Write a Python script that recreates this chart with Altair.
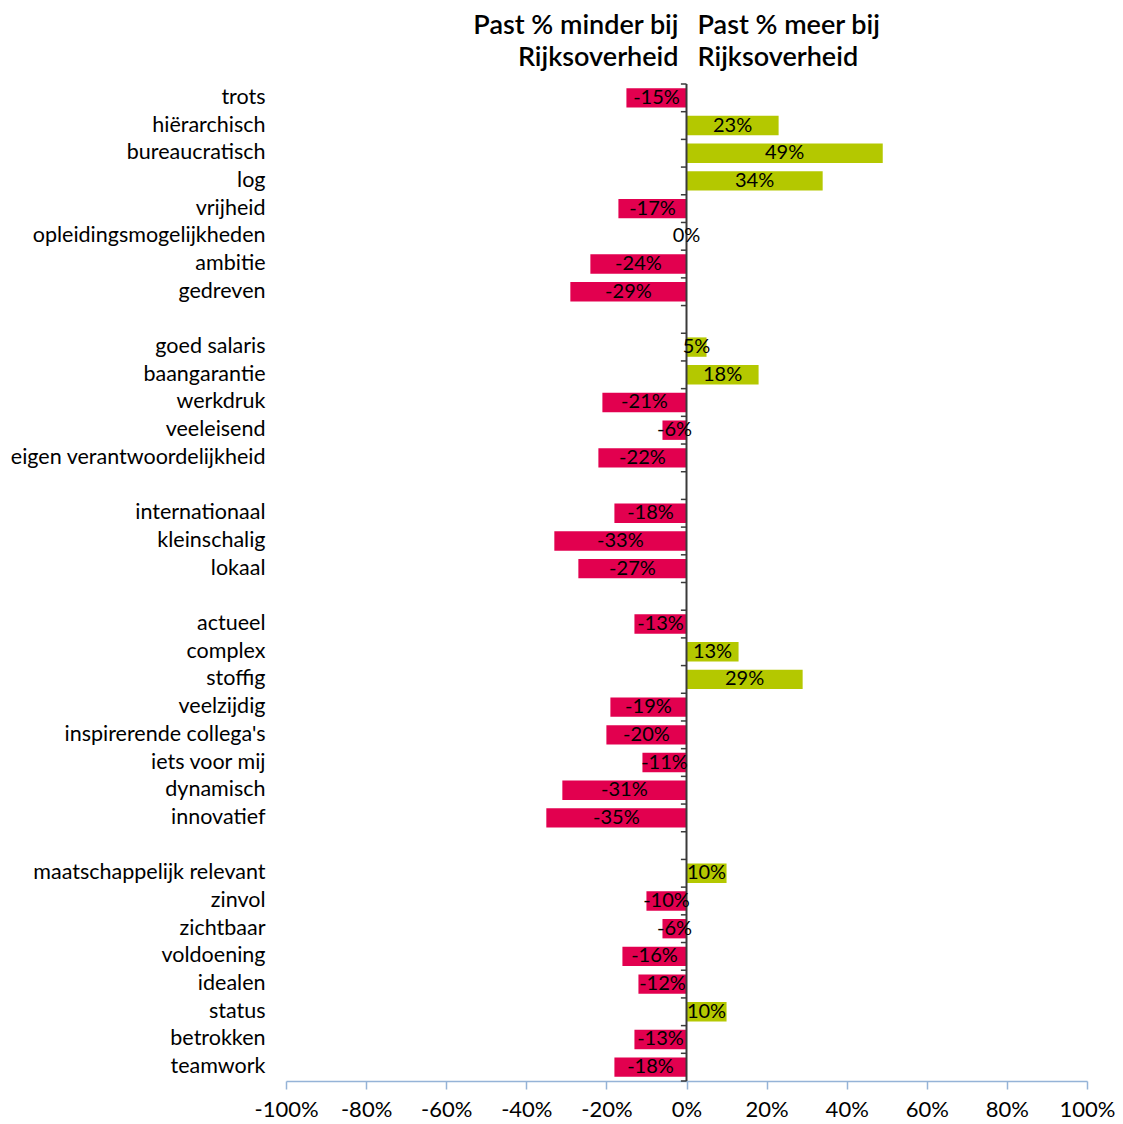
import altair as alt
import pandas as pd

categories = [
    "trots", "hiërarchisch", "bureaucratisch", "log", "vrijheid",
    "opleidingsmogelijkheden", "ambitie", "gedreven",
    "goed salaris", "baangarantie", "werkdruk", "veeleisend",
    "eigen verantwoordelijkheid",
    "internationaal", "kleinschalig", "lokaal",
    "actueel", "complex", "stoffig", "veelzijdig", "inspirerende collega's",
    "iets voor mij", "dynamisch", "innovatief",
    "maatschappelijk relevant", "zinvol", "zichtbaar", "voldoening",
    "idealen", "status", "betrokken", "teamwork",
]
values = [
    -15, 23, 49, 34, -17, 0, -24, -29,
    5, 18, -21, -6, -22,
    -18, -33, -27,
    -13, 13, 29, -19, -20, -11, -31, -35,
    10, -10, -6, -16, -12, 10, -13, -18,
]
group_sizes = [8, 5, 3, 8, 8]
x_ticks = [-100, -80, -60, -40, -20, 0, 20, 40, 60, 80, 100]
title_left = ["Past % minder bij", "Rijksoverheid"]
title_right = ["Past % meer bij", "Rijksoverheid"]

# domain with blank separator rows between groups
domain = []
idx = 0
for g, n in enumerate(group_sizes):
    domain += categories[idx:idx + n]
    idx += n
    if g < len(group_sizes) - 1:
        domain.append(" " * (g + 1))

df = pd.DataFrame({"cat": categories, "value": values})
rows_df = pd.DataFrame({"cat": domain})
last_df = pd.DataFrame({"cat": [domain[-1]]})
one_df = pd.DataFrame({"k": [0]})

FONT = "Lato"
RED = "#E2004F"
GREEN = "#B4C800"
STEP = 27.7

yscale = alt.Scale(domain=domain, paddingInner=0.3, paddingOuter=0.15)
xscale = alt.Scale(domain=[-100, 100])

y_enc = alt.Y("cat:N", scale=yscale, sort=domain,
              axis=alt.Axis(title=None, ticks=False, domain=False,
                            labelFontSize=21.5, labelFont=FONT, labelColor="#000000",
                            labelPadding=21, labelLimit=400))
x_enc = alt.X("value:Q", scale=xscale,
              axis=alt.Axis(title=None, values=x_ticks, grid=False,
                            labelExpr="datum.value + '%'", labelOverlap=False,
                            labelFlush=False,
                            labelFontSize=22, labelFont=FONT, labelColor="#000000",
                            domainColor="#95B3D7", tickColor="#95B3D7",
                            domainWidth=1.5, tickWidth=1.5,
                            tickSize=8, labelPadding=10))

bars = alt.Chart(df).mark_bar().encode(
    y=y_enc,
    x=x_enc,
    color=alt.condition(alt.datum.value > 0, alt.value(GREEN), alt.value(RED)),
)

labels = alt.Chart(df).transform_calculate(
    mid="datum.value / 2",
    lab="datum.value + '%'",
).mark_text(font=FONT, fontSize=20, color="#000000", align="center",
            baseline="middle").encode(
    y=alt.Y("cat:N", scale=yscale, sort=domain),
    x=alt.X("mid:Q", scale=xscale),
    text="lab:N",
)

zero = alt.Chart(one_df).mark_rule(color="#3a3a3a", strokeWidth=2).encode(
    x=alt.datum(0, scale=xscale)
)

ticks_top = alt.Chart(rows_df).mark_rule(color="#3a3a3a", strokeWidth=1.5,
                                         yOffset=-STEP / 2).encode(
    y=alt.Y("cat:N", scale=yscale, sort=domain),
    x=alt.datum(-1.4),
    x2=alt.datum(0),
)
ticks_bottom = alt.Chart(last_df).mark_rule(color="#3a3a3a", strokeWidth=1.5,
                                            yOffset=STEP / 2).encode(
    y=alt.Y("cat:N", scale=yscale, sort=domain),
    x=alt.datum(-1.4),
    x2=alt.datum(0),
)

def title_text(txt, align, dx, yv):
    return alt.Chart(one_df).mark_text(
        text=txt, font=FONT, fontSize=27, fontWeight=600, color="#000000",
        align=align, baseline="middle", dx=dx,
    ).encode(x=alt.datum(0), y=alt.value(yv))

titles = [
    title_text(title_left[0], "right", -8, -58),
    title_text(title_left[1], "right", -8, -26),
    title_text(title_right[0], "left", 11, -58),
    title_text(title_right[1], "left", 11, -26),
]

chart = alt.layer(bars, zero, ticks_top, ticks_bottom, labels, *titles).properties(
    width=801,
    height=997,
    background="white",
    autosize=alt.AutoSizeParams(type="none"),
    padding={"left": 278, "top": 76, "right": 28, "bottom": 46},
).configure_view(stroke=None)

chart.save("out.html", embed_options={"renderer": "svg", "actions": False})
